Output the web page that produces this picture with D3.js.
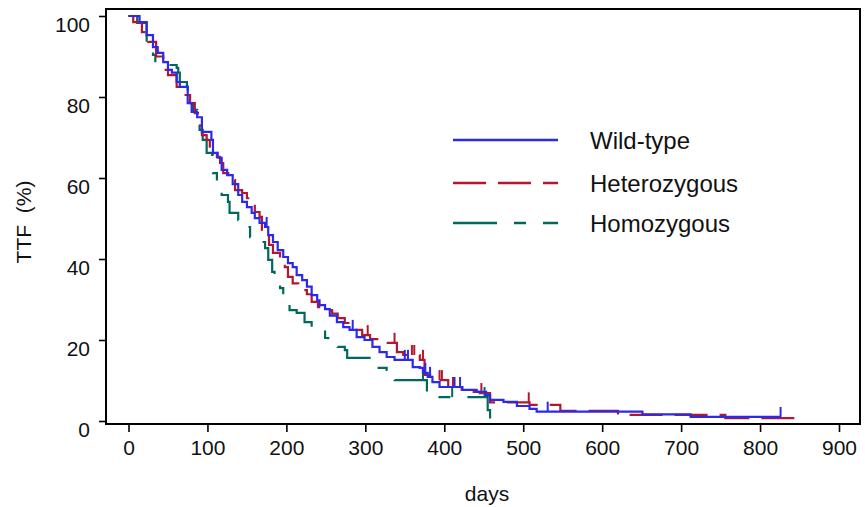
<!DOCTYPE html>
<html><head><meta charset="utf-8">
<script src="https://cdn.jsdelivr.net/npm/d3@7"></script>
<style>
body{margin:0;background:#fff;}
text{font-family:"Liberation Sans",Arial,sans-serif;fill:#111;}
</style></head>
<body><svg id="c" width="865" height="507"></svg>
<script>
// ---- data ----
const xTicks = [0,100,200,300,400,500,600,700,800,900];
const yTicks = [0,20,40,60,80,100];
const seriesNames = ["Wild-type","Heterozygous","Homozygous"];

const wildDays = [0,14,23,31,37,44,50,55,61,65,75,80,87,93,105,107,113,118,125,132,139,144,150,156,160,166,173,177,183,189,196,202,208,213,220,226,232,239,242,249,255,264,272,280,289,299,309,318,327,337,360,369,373,379,385,394,423,441,453,458,475,492,508,517,651,712,826];
const wildSurv = [100,98.5,95.3,92.3,90.9,88.6,86.7,86,83.7,82.5,78.5,76.3,75,71.4,69.4,66.2,65,62,60.7,58.5,55.8,54.1,52.8,51.4,50.1,48.9,47.9,45.9,44.2,42.2,40.5,39,38,36,34.8,33.2,31.1,29.8,28.6,27.6,26,24.4,23.2,22.5,20.7,20,18.3,17,15.8,15.1,13.3,13.1,11.9,10.9,9.6,8.4,7.7,7.2,6.4,5.2,4.7,3.7,3.0,2.3,1.65,1.0,1.0];
const wildCensor = [175,284,350,354,376,382,413,420,531,826];

const hetDays = [0,6,17,25,35,44,50,61,68,78,84,88,93,99,103,112,116,120,128,135,144,150,154,160,166,169,173,178,183,192,198,202,208,215,226,232,240,246,258,265,274,287,296,306,322,327,340,348,369,375,382,390,405,422,445,458,508,547,620,756,846];
const hetSurv = [100,98.5,96,93.6,90,86.7,85.4,82.5,80.5,78.5,76,73,70.6,69.4,66.2,65.2,63.7,61.2,59.5,57,56.3,55,53.8,51.6,50.4,47.2,45.9,43.5,41.5,39.8,38,35.6,34,32.3,31.3,29.4,28.1,27.4,26.5,25.4,24.2,22.5,21.2,20.2,19.5,19.3,17,16.3,15.1,11.4,10.6,10.1,8.4,7.2,6.9,4.6,4.0,2.5,1.5,0.7,0.7];
const hetCensor = [303,337,359,362,373,394,397,411,447,507];

const homDays = [0,11,23,31,34,50,61,63,65,74,75,82,87,90,94,99,106,107,112,118,126,128,139,147,154,169,173,177,182,185,192,196,204,213,223,232,249,253,265,274,277,312,315,327,334,337,378,394,455,458];
const homSurv = [100,98.3,93.6,90.4,88.4,87.9,87.2,86,83.7,82.5,79.3,76.8,73.6,71.9,69.4,66.2,65.7,61.2,58.3,55.8,54.1,51.4,49.6,47.9,45.4,44.2,42.7,39.8,36.8,34.3,32.8,29.4,27.4,26.7,24.4,23,20.5,18.8,18.3,17.5,15.6,14.6,13.1,12.6,11.4,10.1,7.2,5.9,2.7,0];
const homCensor = [373,410,451];

const colors = ["#2a2ae8","#b5162f","#00695c"];
const dashes = [null,"33,12","44,17,12,17"];

// ---- drawing ----
const svg = d3.select("#c");
const frame = {l:106,r:860,t:9,b:424};
const x = d3.scaleLinear().domain([0,900]).range([128.5,839]);
const y = d3.scaleLinear().domain([0,100]).range([421,16]);

const series = [
  {days:wildDays, surv:wildSurv, cens:wildCensor},
  {days:hetDays, surv:hetSurv, cens:hetCensor},
  {days:homDays, surv:homSurv, cens:homCensor}
];

const line = d3.line().x(d=>x(d[0])).y(d=>y(d[1])).curve(d3.curveStepAfter);
function valueAt(s, day){
  let v = s.surv[0];
  for(let i=0;i<s.days.length;i++){ if(s.days[i]<=day) v=s.surv[i]; }
  return v;
}

[2,1,0].forEach(i=>{
  const s = series[i];
  const pts = s.days.map((d,k)=>[d,s.surv[k]]);
  svg.append("path").attr("d",line(pts)).attr("fill","none")
    .attr("stroke",colors[i]).attr("stroke-width",2.2)
    .attr("stroke-dasharray",dashes[i]);
  svg.selectAll(null).data(s.cens).enter().append("line")
    .attr("x1",d=>x(d)).attr("x2",d=>x(d))
    .attr("y1",d=>y(valueAt(s,d))).attr("y2",d=>y(valueAt(s,d))-10)
    .attr("stroke",colors[i]).attr("stroke-width",2);
});

// frame
svg.append("rect").attr("x",frame.l).attr("y",frame.t)
  .attr("width",frame.r-frame.l).attr("height",frame.b-frame.t)
  .attr("fill","none").attr("stroke","#000").attr("stroke-width",2);

// axes
const yAxis = svg.append("g").attr("transform",`translate(${frame.l},0)`)
  .call(d3.axisLeft(y).tickValues(yTicks).tickSize(7).tickPadding(9));
yAxis.select(".domain").remove();
yAxis.selectAll("line").attr("stroke","#000").attr("stroke-width",1.6);
yAxis.selectAll("text").attr("font-size",21).attr("dy","0.75em")
  .style("font-family","'Liberation Sans',Arial,sans-serif").attr("fill","#111");

const xAxis = svg.append("g").attr("transform",`translate(0,${frame.b})`)
  .call(d3.axisBottom(x).tickValues(xTicks).tickSize(8).tickPadding(8));
xAxis.select(".domain").remove();
xAxis.selectAll("line").attr("stroke","#000").attr("stroke-width",1.6);
xAxis.selectAll("text").attr("font-size",21)
  .style("font-family","'Liberation Sans',Arial,sans-serif").attr("fill","#111");

// axis titles
svg.append("text").attr("x",487).attr("y",501).attr("text-anchor","middle")
  .attr("font-size",21).text("days");
svg.append("text").attr("transform","translate(31,222) rotate(-90)")
  .attr("text-anchor","middle").attr("font-size",21)
  .style("white-space","pre").text("TTF  (%)");

// legend
const legY = [140,183,223];
seriesNames.forEach((n,i)=>{
  svg.append("line").attr("x1",453).attr("x2",558).attr("y1",legY[i]).attr("y2",legY[i])
    .attr("stroke",colors[i]).attr("stroke-width",2.4).attr("stroke-dasharray",dashes[i]);
  svg.append("text").attr("x",590).attr("y",legY[i]+8.5).attr("font-size",24).text(n);
});
</script></body></html>
